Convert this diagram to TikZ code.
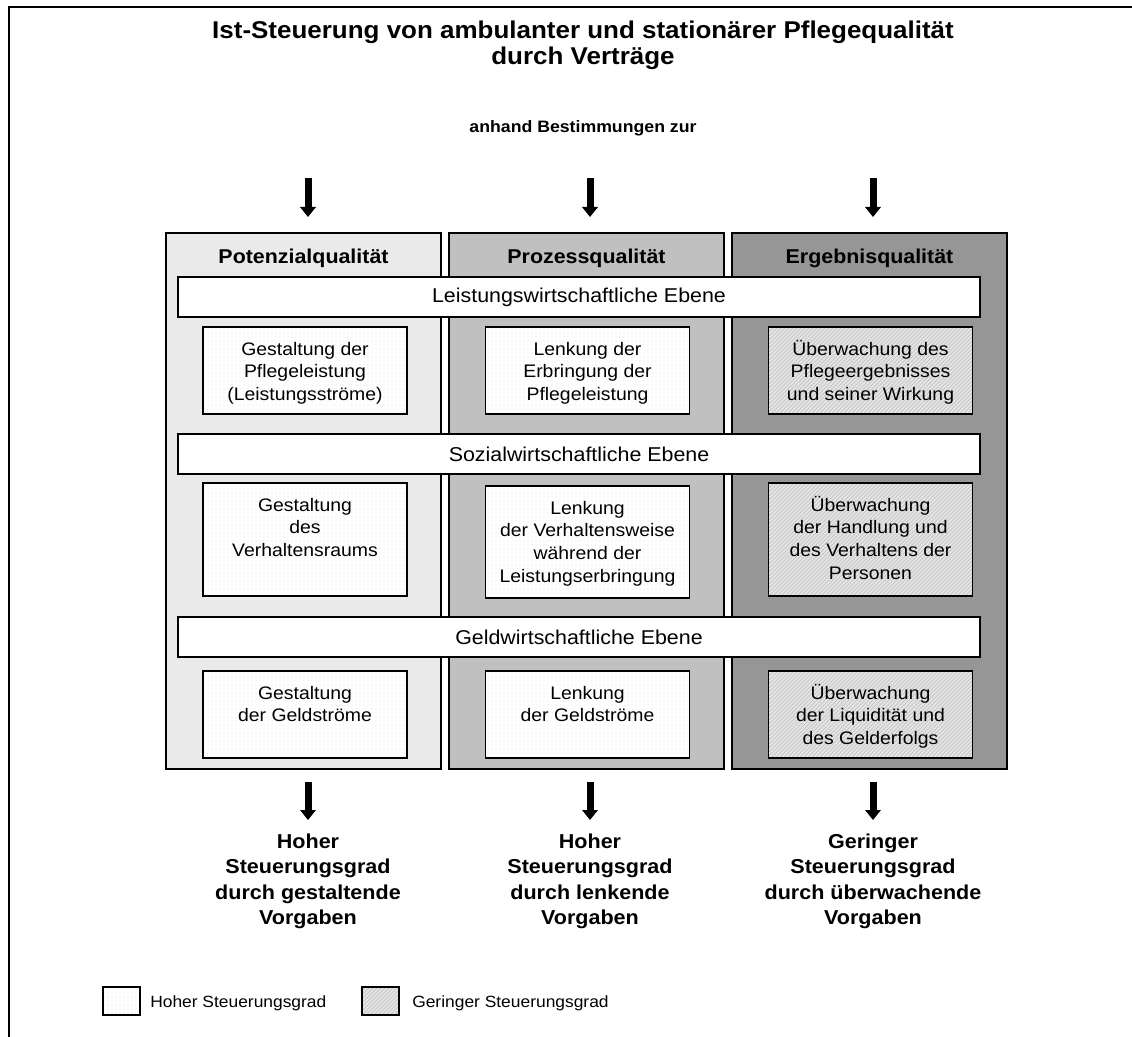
\documentclass[tikz,border=0pt]{standalone}
\usepackage{fontspec}
\setmainfont{Liberation Sans}[FakeStretch=1.07]
\usetikzlibrary{arrows.meta,patterns}

\definecolor{potfill}{HTML}{EAEAEA}
\definecolor{profill}{HTML}{C0C0C0}
\definecolor{ergfill}{HTML}{969696}
\definecolor{hatchbase}{HTML}{E4E4E4}
\definecolor{hatchline}{HTML}{BEBEBE}
\definecolor{dotline}{HTML}{E6E6E6}

% invisible rule fixing the height of a first text line
\newcommand{\topline}[1]{\rule{0pt}{#1}}

\tikzset{
  frameline/.style={line width=1.6pt},
  qcolumn/.style={draw, line width=1.3pt, inner sep=0pt, minimum width=206.25pt, minimum height=402pt},
  qhead/.style={font=\fontsize{15}{18}\selectfont\bfseries, anchor=base, inner sep=0pt},
  ebene/.style={draw, fill=white, line width=1.2pt, inner sep=0pt, minimum width=601.5pt, minimum height=30pt, font=\fontsize{15}{18}\selectfont},
  hochbox/.style={draw, line width=1pt, preaction={fill=white}, pattern=dots, pattern color=dotline, inner sep=0pt, minimum width=153pt},
  geringbox/.style={draw, line width=1pt, preaction={fill=hatchbase}, pattern=north east lines, pattern color=hatchline, inner sep=0pt, minimum width=153pt},
  boxtext/.style={anchor=north, inner sep=0pt, align=center, font=\fontsize{13.6}{17}\selectfont},
  bigarrow/.style={line width=5.25pt, -{Triangle[width=11.5pt,length=7.5pt]}},
  resulttext/.style={anchor=north, inner sep=0pt, align=center, font=\fontsize{15.1}{19.1}\selectfont\bfseries},
  legendtext/.style={anchor=base west, inner sep=0pt, font=\fontsize{12.2}{14}\selectfont},
}

\begin{document}
\begin{tikzpicture}[x=0.75pt,y=-0.75pt]
\useasboundingbox (0,0) rectangle (1132,1037);

% outer frame (open to the right and bottom)
\draw[frameline] (9,1045) -- (9,7) -- (1140,7);

% heading
\node[font=\fontsize{18.2}{19.5}\selectfont\bfseries, align=center, inner sep=0pt] (title) at (583,45.5)
  {Ist-Steuerung von ambulanter und stationärer Pflegequalität\\durch Verträge};
\node[font=\fontsize{12.4}{15}\selectfont\bfseries, anchor=base, inner sep=0pt] (anhand) at (583,133)
  {anhand Bestimmungen zur};

% arrows into the three columns
\coordinate (inP1) at (308,178); \coordinate (inP2) at (308,217);
\coordinate (inR1) at (590,178); \coordinate (inR2) at (590,217);
\coordinate (inE1) at (873,178); \coordinate (inE2) at (873,217);
\draw[bigarrow] (inP1) -- (inP2);
\draw[bigarrow] (inR1) -- (inR2);
\draw[bigarrow] (inE1) -- (inE2);

% columns
\node[qcolumn, fill=potfill] (colP) at (303.5,501) {};
\node[qcolumn, fill=profill] (colR) at (586.5,501) {};
\node[qcolumn, fill=ergfill] (colE) at (869.5,501) {};

\node[qhead] (hP) at (303.5,264) {Potenzialqualität};
\node[qhead] (hR) at (586.5,264) {Prozessqualität};
\node[qhead] (hE) at (869.5,264) {Ergebnisqualität};

% levels
\node[ebene] (eL) at (579,297) {Leistungswirtschaftliche Ebene};
\node[ebene] (eS) at (579,454) {Sozialwirtschaftliche Ebene};
\node[ebene] (eG) at (579,637) {Geldwirtschaftliche Ebene};

% row 1
\node[hochbox, minimum height=65.25pt] (b11) at (305,370.5) {};
\node[hochbox, minimum height=65.25pt] (b21) at (587.5,370.5) {};
\node[geringbox, minimum height=65.25pt] (b31) at (870.5,370.5) {};
\node[boxtext] (t11) at ([yshift=-8.4pt]b11.north) {\topline{13pt}Gestaltung der\\Pflegeleistung\\(Leistungsströme)};
\node[boxtext] (t21) at ([yshift=-8.4pt]b21.north) {\topline{13pt}Lenkung der\\Erbringung der\\Pflegeleistung};
\node[boxtext] (t31) at ([yshift=-8.4pt]b31.north) {\topline{13pt}Überwachung des\\Pflegeergebnisses\\und seiner Wirkung};

% row 2
\node[hochbox, minimum height=84.75pt] (b12) at (305,539.5) {};
\node[hochbox, minimum height=84pt] (b22) at (587.5,542) {};
\node[geringbox, minimum height=84.75pt] (b32) at (870.5,539.5) {};
\node[boxtext] (t12) at ([yshift=-8.4pt]b12.north) {\topline{13pt}Gestaltung\\des\\Verhaltensraums};
\node[boxtext] (t22) at ([yshift=-8.4pt]b22.north) {\topline{13pt}Lenkung\\der Verhaltensweise\\während der\\Leistungserbringung};
\node[boxtext] (t32) at ([yshift=-8.4pt]b32.north) {\topline{13pt}Überwachung\\der Handlung und\\des Verhaltens der\\Personen};

% row 3
\node[hochbox, minimum height=65.25pt] (b13) at (305,714.5) {};
\node[hochbox, minimum height=65.25pt] (b23) at (587.5,714.5) {};
\node[geringbox, minimum height=65.25pt] (b33) at (870.5,714.5) {};
\node[boxtext] (t13) at ([yshift=-8.4pt]b13.north) {\topline{13pt}Gestaltung\\der Geldströme};
\node[boxtext] (t23) at ([yshift=-8.4pt]b23.north) {\topline{13pt}Lenkung\\der Geldströme};
\node[boxtext] (t33) at ([yshift=-8.4pt]b33.north) {\topline{13pt}Überwachung\\der Liquidität und\\des Gelderfolgs};

% arrows out of the columns
\coordinate (outP1) at (308,782); \coordinate (outP2) at (308,820);
\coordinate (outR1) at (590,782); \coordinate (outR2) at (590,820);
\coordinate (outE1) at (873,782); \coordinate (outE2) at (873,820);
\draw[bigarrow] (outP1) -- (outP2);
\draw[bigarrow] (outR1) -- (outR2);
\draw[bigarrow] (outE1) -- (outE2);

\node[resulttext] (rP) at (308,832) {\topline{12pt}Hoher\\Steuerungsgrad\\durch gestaltende\\Vorgaben};
\node[resulttext] (rR) at (590,832) {\topline{12pt}Hoher\\Steuerungsgrad\\durch lenkende\\Vorgaben};
\node[resulttext] (rE) at (873,832) {\topline{12pt}Geringer\\Steuerungsgrad\\durch überwachende\\Vorgaben};

% legend
\node[hochbox, minimum width=27.75pt, minimum height=21pt] (lg1) at (121.5,1001) {};
\node[legendtext] (lt1) at (150,1007) {Hoher Steuerungsgrad};
\node[geringbox, minimum width=27.75pt, minimum height=21pt] (lg2) at (380.5,1001) {};
\node[legendtext] (lt2) at (412,1007) {Geringer Steuerungsgrad};
\end{tikzpicture}
\end{document}
